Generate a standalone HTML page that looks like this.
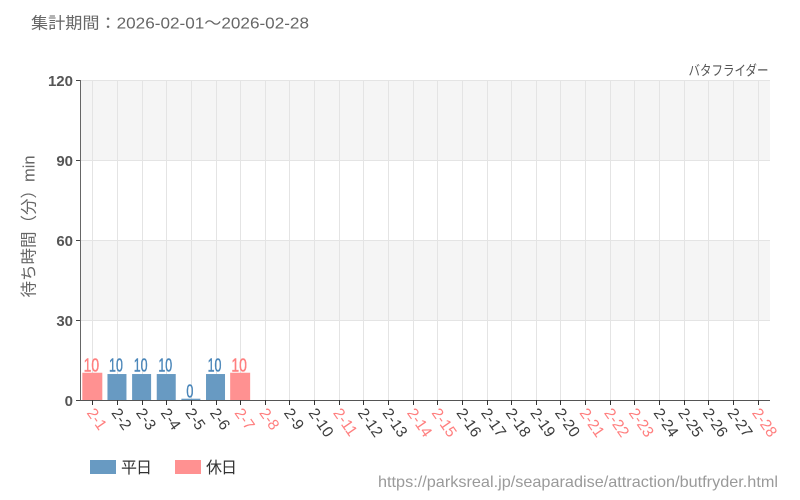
<!DOCTYPE html>
<html><head><meta charset="utf-8"><style>
html,body{margin:0;padding:0;background:#fff;}
svg{display:block;font-family:"Liberation Sans","Noto Sans CJK JP",sans-serif;}
</style></head><body>
<svg width="800" height="500" viewBox="0 0 800 500" xmlns="http://www.w3.org/2000/svg">
<rect x="0" y="0" width="800" height="500" fill="#fff"/>
<text x="31" y="28.7" font-size="16" fill="#666" textLength="278" lengthAdjust="spacingAndGlyphs">集計期間：2026-02-01～2026-02-28</text>
<text x="768.5" y="75.5" font-size="14" fill="#555" text-anchor="end" textLength="80" lengthAdjust="spacingAndGlyphs">バタフライダー</text>
<!-- bands -->
<rect x="80" y="80" width="690" height="80" fill="#f5f5f5"/>
<rect x="80" y="240" width="690" height="80" fill="#f5f5f5"/>
<!-- horizontal grid -->
<g stroke="#e4e4e4" stroke-width="1">
<line x1="80" y1="80.5" x2="770" y2="80.5"/>
<line x1="80" y1="160.5" x2="770" y2="160.5"/>
<line x1="80" y1="240.5" x2="770" y2="240.5"/>
<line x1="80" y1="320.5" x2="770" y2="320.5"/>
</g>
<g id="vg" stroke="#e4e4e4" stroke-width="1"></g>
<g id="bars"></g>
<!-- axes -->
<line x1="80.5" y1="80" x2="80.5" y2="400" stroke="#666" stroke-width="1"/>
<line x1="80" y1="400.5" x2="770" y2="400.5" stroke="#555" stroke-width="1"/>
<g stroke="#444" stroke-width="1">
<line x1="76" y1="80.5" x2="80" y2="80.5"/>
<line x1="76" y1="160.5" x2="80" y2="160.5"/>
<line x1="76" y1="240.5" x2="80" y2="240.5"/>
<line x1="76" y1="320.5" x2="80" y2="320.5"/>
<line x1="76" y1="400.5" x2="80" y2="400.5"/>
</g>
<g id="ticks" stroke="#333" stroke-width="1"></g>
<g font-size="15" font-weight="bold" fill="#555" text-anchor="end">
<text x="73" y="86">120</text>
<text x="73" y="166">90</text>
<text x="73" y="246">60</text>
<text x="73" y="326">30</text>
<text x="73" y="406">0</text>
</g>
<text transform="translate(34.5,226.5) rotate(-90)" font-size="16.5" fill="#666" text-anchor="middle">待ち時間（分）min</text>
<g id="xl" font-size="15.5"></g>
<!-- legend -->
<rect x="90" y="460" width="26" height="14" fill="#689ac2"/>
<text x="121" y="473" font-size="16" fill="#333" textLength="31" lengthAdjust="spacing">平日</text>
<rect x="175" y="460" width="26" height="14" fill="#ff9191"/>
<text x="206" y="473" font-size="16" fill="#333" textLength="31" lengthAdjust="spacing">休日</text>
<text x="778" y="487" font-size="16" fill="#9a9a9a" text-anchor="end" textLength="400" lengthAdjust="spacingAndGlyphs">https://parksreal.jp/seaparadise/attraction/butfryder.html</text>
</svg>
<script>
(function(){
var NS="http://www.w3.org/2000/svg";
var holidays=[1,7,8,11,14,15,21,22,23,28];
var vals={1:10,2:10,3:10,4:10,5:0,6:10,7:10};
var vg=document.getElementById("vg"),ticks=document.getElementById("ticks"),bars=document.getElementById("bars"),xl=document.getElementById("xl");
function el(n,a,p){var e=document.createElementNS(NS,n);for(var k in a)e.setAttribute(k,a[k]);p.appendChild(e);return e;}
for(var i=0;i<28;i++){
 var d=i+1,cx=92.32+24.64*i,hol=holidays.indexOf(d)>=0;
 var xr=Math.round(cx)+0.5;
 el("line",{x1:xr,y1:80,x2:xr,y2:400},vg);
 el("line",{x1:xr,y1:400,x2:xr,y2:405},ticks);
 var ax=cx-6.1,ay=412.9;
 var t=el("text",{x:ax,y:ay,fill:hol?"#ff7f7f":"#3d3d3d",transform:"rotate(55 "+ax+" "+ay+")"},xl);
 t.textContent="2-"+d;
 if(vals.hasOwnProperty(d)){
  var v=vals[d];
  if(hol){
   var h=v/120*320;
   el("rect",{x:cx-10,y:400-h-0.6,width:20,height:h+0.6,fill:"#ff9191"},bars);
   var tt=el("text",{x:cx-1,y:371.3,"font-size":"18.8",fill:"#ff7f7f",stroke:"#ff7f7f","stroke-width":"0.4","text-anchor":"middle",textLength:"15.5",lengthAdjust:"spacingAndGlyphs"},bars);
   tt.textContent=v;
  } else {
   var h2=v==0?1.3:v/120*320-0.7;
   el("rect",{x:cx-9.5,y:400-h2,width:19,height:h2,fill:"#689ac2"},bars);
   var tt2=el("text",{x:cx-1,y:v==0?397.7:371.3,"font-size":"18.8",fill:"#4a86b9",stroke:"#4a86b9","stroke-width":"0.4","text-anchor":"middle",textLength:v==0?"7":"13.8",lengthAdjust:"spacingAndGlyphs"},bars);
   tt2.textContent=v;
  }
 }
}
})();
</script>
</body></html>
